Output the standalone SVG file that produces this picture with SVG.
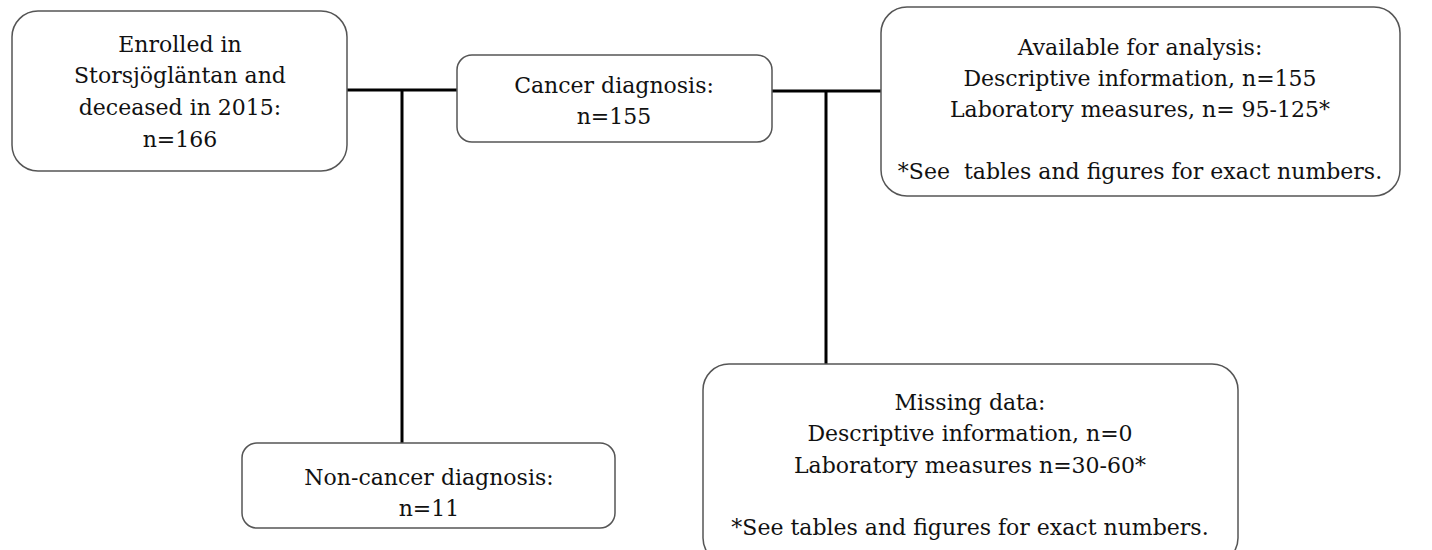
<svg xmlns="http://www.w3.org/2000/svg" width="1432" height="550" viewBox="0 0 1432 550">
<style>
.box{fill:#fff;stroke:#555;stroke-width:1.5}
.t{font-family:"DejaVu Serif","Liberation Serif",serif;font-size:22px;fill:#111;text-anchor:middle;white-space:pre}
.c{stroke:#000;stroke-width:3;fill:none}
</style>
<rect width="1432" height="550" fill="#fff"/>
<g id="connectors">
<path class="c" d="M347 90H457"/>
<path class="c" d="M402 90V443"/>
<path class="c" d="M772 91H881"/>
<path class="c" d="M826 91V364"/>
</g>
<g id="enrolled">
<rect class="box" x="12" y="11" width="335" height="160" rx="26"/>
<text class="t" x="180" y="52">Enrolled in</text>
<text class="t" x="180" y="83">Storsjögläntan and</text>
<text class="t" x="180" y="115">deceased in 2015:</text>
<text class="t" x="180" y="147">n=166</text>
</g>
<g id="cancer">
<rect class="box" x="457" y="55" width="315" height="87" rx="15"/>
<text class="t" x="614" y="93">Cancer diagnosis:</text>
<text class="t" x="614" y="124">n=155</text>
</g>
<g id="available">
<rect class="box" x="881" y="7" width="519" height="189" rx="26"/>
<text class="t" x="1140" y="55">Available for analysis:</text>
<text class="t" x="1140" y="86">Descriptive information, n=155</text>
<text class="t" x="1140" y="117">Laboratory measures, n= 95-125*</text>
<text class="t" x="1140" y="179" xml:space="preserve">*See  tables and figures for exact numbers.</text>
</g>
<g id="noncancer">
<rect class="box" x="242" y="443" width="373" height="85" rx="15"/>
<text class="t" x="429" y="485">Non-cancer diagnosis:</text>
<text class="t" x="429" y="516">n=11</text>
</g>
<g id="missing">
<rect class="box" x="703" y="364" width="535" height="200" rx="26"/>
<text class="t" x="970" y="410">Missing data:</text>
<text class="t" x="970" y="441">Descriptive information, n=0</text>
<text class="t" x="970" y="473">Laboratory measures n=30-60*</text>
<text class="t" x="970" y="535">*See tables and figures for exact numbers.</text>
</g>
</svg>
